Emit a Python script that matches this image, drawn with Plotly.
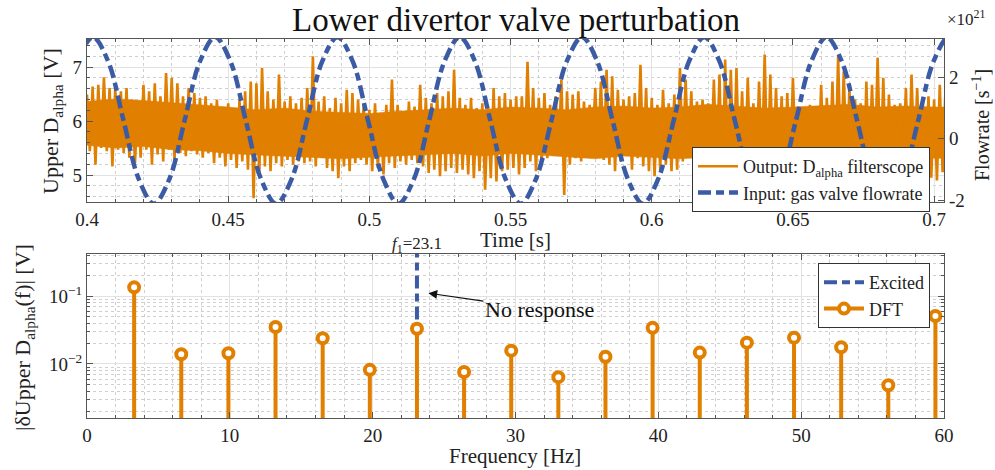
import numpy as np
import plotly.graph_objects as go

# ---------------- data ----------------
title_text = "Lower divertor valve perturbation"

# Top panel: D_alpha filterscope, upper / lower excursion read per 2 ms slice
t_start = 0.400
t_step = 0.002
dalpha_upper = [
    6.49, 6.64, 6.67, 6.81, 6.61, 6.61, 6.55, 6.61, 6.40, 6.36, 6.67, 6.55, 6.70, 6.46, 6.89, 6.80, 6.70, 6.46, 6.61, 6.52,
    6.43, 6.46, 6.33, 6.40, 6.24, 6.33, 6.21, 6.40, 6.55, 6.73, 6.70, 6.98, 6.55, 6.40, 6.86, 6.36, 6.46, 6.33, 6.43,
    6.61, 7.20, 6.36, 6.46, 6.24, 6.43, 6.33, 6.58, 6.52, 6.40, 6.30, 6.21, 6.33, 6.12, 6.30, 6.77, 6.30, 6.18, 6.36, 6.27,
    6.67, 6.43, 6.33, 6.52, 6.46, 6.55, 6.95, 6.43, 6.30, 6.43, 6.24, 6.33, 6.27, 6.61, 6.46, 6.52, 6.40, 6.46,
    6.46, 7.10, 6.61, 6.43, 6.52, 6.30, 6.46, 6.77, 6.55, 6.49, 6.55, 6.36, 6.30, 6.61, 6.73, 6.95, 6.83, 6.58, 6.40, 6.46,
    6.52, 7.04, 6.61, 6.43, 6.30, 6.58, 6.33, 6.49, 6.98, 6.77, 6.55, 6.36, 6.40, 6.33, 6.77, 6.86, 7.14, 6.95,
    6.98, 6.55, 6.80, 6.33, 6.73, 7.23, 6.86, 6.61, 6.46, 6.52, 6.80, 6.27, 6.21, 6.30, 6.24, 6.67, 6.43, 6.73, 7.20, 6.92,
    6.61, 6.40, 6.33, 6.73, 6.67, 7.17, 6.80, 6.49, 6.30, 6.33, 6.61, 6.86, 6.61, 6.33, 6.46, 6.40, 6.67, 6.55,
]
dalpha_lower = [
    5.44, 5.19, 5.50, 5.44, 5.16, 5.47, 5.41, 5.32, 5.22, 5.32, 5.47, 5.19, 5.38, 5.25, 5.47, 5.28, 5.41, 5.35, 5.44, 5.38,
    5.32, 5.41, 5.22, 5.32, 5.16, 5.28, 5.13, 5.25, 5.10, 4.57, 4.98, 5.16, 5.07, 5.22, 5.16, 5.28, 5.19, 5.25, 5.22,
    5.25, 5.16, 5.32, 5.13, 5.07, 4.94, 5.16, 5.07, 5.22, 5.28, 5.19, 5.07, 5.13, 5.01, 5.22, 5.13, 5.25, 5.19, 5.28, 5.22,
    5.16, 5.04, 5.10, 4.98, 5.07, 5.13, 5.04, 5.10, 5.01, 4.94, 5.07, 4.73, 4.94, 4.88, 5.07, 5.10, 5.13, 5.01,
    5.13, 5.25, 5.07, 5.19, 5.31, 5.38, 5.41, 4.63, 5.19, 5.31, 5.25, 5.41, 5.47, 5.38, 5.28, 5.19, 5.07, 5.25, 5.41, 5.10,
    5.31, 5.16, 5.07, 4.98, 5.10, 5.19, 5.07, 5.10, 5.25, 5.35, 5.22, 5.38, 5.16, 5.07, 5.10, 4.51, 4.94, 5.07,
    5.05, 4.95, 5.10, 5.00, 5.15, 4.90, 5.05, 5.12, 4.98, 5.08, 5.20, 5.02, 4.95, 5.10, 5.05, 4.90, 5.12, 5.00, 5.15, 5.05,
    4.92, 5.08, 4.55, 5.02, 5.10, 4.98, 5.05, 5.12, 4.96, 5.08, 5.00, 5.15, 5.05, 5.10, 4.95, 4.90, 5.05, 5.00,
]

# Solid core of the D_alpha band, read every 10 ms
core_t = [0.40, 0.41, 0.42, 0.43, 0.44, 0.45, 0.46, 0.47, 0.48, 0.49, 0.50, 0.51, 0.52, 0.53, 0.54, 0.55,
          0.56, 0.57, 0.58, 0.59, 0.60, 0.61, 0.62, 0.63, 0.64, 0.65, 0.66, 0.67, 0.68, 0.69, 0.70, 0.71]
core_hi = [6.36, 6.41, 6.38, 6.34, 6.31, 6.26, 6.21, 6.24, 6.18, 6.16, 6.14, 6.18, 6.21, 6.24, 6.21, 6.26,
           6.24, 6.21, 6.26, 6.28, 6.24, 6.26, 6.31, 6.28, 6.24, 6.26, 6.28, 6.31, 6.26, 6.28, 6.26, 6.26]
core_lo = [5.55, 5.50, 5.53, 5.47, 5.45, 5.40, 5.37, 5.35, 5.33, 5.30, 5.33, 5.35, 5.37, 5.40, 5.35, 5.40,
           5.37, 5.33, 5.30, 5.35, 5.33, 5.30, 5.33, 5.35, 5.30, 5.33, 5.35, 5.31, 5.30, 5.33, 5.31, 5.31]

# Gas valve flowrate (x1e21 s^-1), read at eighth-period points
valve_t = [
    0.3913, 0.3967, 0.4021, 0.4075, 0.4129, 0.4183, 0.4237, 0.4292, 0.4346, 0.4400,
    0.4454, 0.4508, 0.4562, 0.4616, 0.4670, 0.4725, 0.4779, 0.4833, 0.4887, 0.4941,
    0.4995, 0.5049, 0.5103, 0.5158, 0.5212, 0.5266, 0.5320, 0.5374, 0.5428, 0.5482,
    0.5536, 0.5590, 0.5645, 0.5699, 0.5753, 0.5807, 0.5861, 0.5915, 0.5969, 0.6023,
    0.6078, 0.6132, 0.6186, 0.6240, 0.6294, 0.6348, 0.6402, 0.6456, 0.6511, 0.6565,
    0.6619, 0.6673, 0.6727, 0.6781, 0.6835, 0.6889, 0.6944, 0.6998, 0.7052, 0.7106,
]
valve_flow = [
    0.6, 2.51, 3.3, 2.51, 0.6, -1.31, -2.12, -1.31, 0.6, 2.51,
    3.3, 2.51, 0.6, -1.31, -2.12, -1.31, 0.6, 2.51, 3.3, 2.51,
    0.6, -1.31, -2.12, -1.31, 0.6, 2.51, 3.3, 2.51, 0.6, -1.31,
    -2.12, -1.31, 0.6, 2.51, 3.3, 2.51, 0.6, -1.31, -2.12, -1.31,
    0.6, 2.51, 3.3, 2.51, 0.6, -1.31, -2.12, -1.31, 0.6, 2.51,
    3.3, 2.51, 0.6, -1.31, -2.12, -1.31, 0.6, 2.51, 3.3, 2.51,
]

# Bottom panel: DFT amplitudes
freq_hz = [3.3, 6.6, 9.9, 13.2, 16.5, 19.8, 23.1, 26.4, 29.7, 33.0,
           36.3, 39.6, 42.9, 46.2, 49.5, 52.8, 56.1, 59.4]
dft_amp = [0.134, 0.0139, 0.0144, 0.035, 0.0239, 0.0082, 0.033, 0.0076, 0.0157, 0.0064,
           0.0128, 0.034, 0.0147, 0.0206, 0.0244, 0.0176, 0.00486, 0.0508]
f1 = 23.1
excited_amp = [0.045, 1.0]
stem_base = 1e-4

# ---------------- styles ----------------
ORANGE = "#E07F00"
BLUE = "#3B5BA5"
FONT = "Liberation Serif"
AX = "#555555"
GRID = "#E2E2E2"
MGRID = "#CFCFCF"
DASH = "13px,5px,8px,5px"

# build interleaved noisy trace
n = len(dalpha_upper)
t_env = t_start + t_step * np.arange(n)
t_sig = np.empty(2 * n)
y_sig = np.empty(2 * n)
t_sig[0::2] = t_env
t_sig[1::2] = t_env + t_step / 2
y_sig[0::2] = dalpha_upper
y_sig[1::2] = dalpha_lower

fig = go.Figure()

# solid core (filled band)
fig.add_trace(go.Scatter(
    x=core_t, y=core_lo, mode="lines", xaxis="x", yaxis="y",
    line=dict(color=ORANGE, width=0.5), showlegend=False, hoverinfo="skip",
))
fig.add_trace(go.Scatter(
    x=core_t, y=core_hi, mode="lines", xaxis="x", yaxis="y",
    line=dict(color=ORANGE, width=0.5), fill="tonexty", fillcolor=ORANGE,
    showlegend=False, hoverinfo="skip",
))
fig.add_trace(go.Scatter(
    x=t_sig, y=y_sig, mode="lines", xaxis="x", yaxis="y",
    line=dict(color=ORANGE, width=2.6),
    name="Output: D<sub>alpha</sub> filterscope", legend="legend",
))
fig.add_trace(go.Scatter(
    x=valve_t, y=valve_flow, mode="lines", xaxis="x", yaxis="y2",
    line=dict(color=BLUE, width=4.5, dash=DASH, shape="spline", smoothing=1.0),
    name="Input: gas valve flowrate", legend="legend",
))

# stems
sx, sy = [], []
for f, a in zip(freq_hz, dft_amp):
    sx += [f, f, None]
    sy += [stem_base, a, None]

fig.add_trace(go.Scatter(
    x=[f1, f1], y=excited_amp, mode="lines", xaxis="x2", yaxis="y3",
    line=dict(color=BLUE, width=4, dash=DASH),
    name="Excited", legend="legend2",
))
fig.add_trace(go.Scatter(
    x=sx, y=sy, mode="lines", xaxis="x2", yaxis="y3",
    line=dict(color=ORANGE, width=4), showlegend=False, hoverinfo="skip",
))
fig.add_trace(go.Scatter(
    x=freq_hz, y=dft_amp, mode="markers", xaxis="x2", yaxis="y3",
    marker=dict(symbol="circle", size=10, color="white", line=dict(color=ORANGE, width=4)),
    showlegend=False,
))
fig.add_trace(go.Scatter(
    x=[None], y=[None], mode="lines+markers", xaxis="x2", yaxis="y3",
    line=dict(color=ORANGE, width=4),
    marker=dict(symbol="circle", size=10, color="white", line=dict(color=ORANGE, width=4)),
    name="DFT", legend="legend2",
))

xd = [87 / 995, 944 / 995]
tick_font = dict(family=FONT, size=19, color="#222")

common_axis = dict(
    showline=True, linecolor=AX, linewidth=1.2, ticks="inside", tickcolor=AX,
    ticklen=6, tickfont=tick_font, zeroline=False, automargin=False,
)

fig.update_layout(
    width=995, height=470,
    margin=dict(l=0, r=0, t=0, b=0, pad=0, autoexpand=False),
    paper_bgcolor="white", plot_bgcolor="white",
    font=dict(family=FONT, color="#222"),
    xaxis=dict(**common_axis, domain=xd, anchor="y", range=[0.4, 0.7035],
               tickvals=[0.4, 0.45, 0.5, 0.55, 0.6, 0.65, 0.7],
               ticktext=["0.4", "0.45", "0.5", "0.55", "0.6", "0.65", "0.7"],
               mirror="ticks", showgrid=True, gridcolor=GRID,
               minor=dict(dtick=0.01, tick0=0.4, ticks="inside", ticklen=3, tickcolor=AX,
                          showgrid=True, gridcolor=MGRID, griddash="dot")),
    yaxis=dict(**common_axis, domain=[1 - 202 / 470, 1 - 39 / 470], anchor="x",
               range=[4.5, 7.52], tickvals=[5, 6, 7], showgrid=True, gridcolor=GRID,
               minor=dict(dtick=0.2, tick0=4.6, ticks="inside", ticklen=3, tickcolor=AX,
                          showgrid=True, gridcolor=MGRID, griddash="dot")),
    yaxis2=dict(**common_axis, overlaying="y", side="right", anchor="x",
                range=[-2.065, 3.24], tickvals=[-2, 0, 2], ticktext=["-2", "0", "2"],
                showgrid=False),
    xaxis2=dict(**common_axis, domain=xd, anchor="y3", range=[0, 60],
                tickvals=[0, 10, 20, 30, 40, 50, 60], mirror="ticks",
                showgrid=True, gridcolor=GRID,
                minor=dict(dtick=2, tick0=0, ticks="inside", ticklen=3, tickcolor=AX,
                           showgrid=True, gridcolor=MGRID, griddash="dot")),
    yaxis3=dict(**common_axis, domain=[1 - 418 / 470, 1 - 254 / 470], anchor="x2",
                type="log", range=[-2.795, -0.382],
                tickvals=[0.01, 0.1], ticktext=["10<sup>−2</sup>", "10<sup>−1</sup>"],
                mirror="ticks", showgrid=True, gridcolor=GRID,
                minor=dict(dtick="D1", ticks="inside", ticklen=3, tickcolor=AX,
                           showgrid=True, gridcolor=MGRID, griddash="dot")),
    legend=dict(x=930 / 995, xanchor="right", y=1 - 147 / 470, yanchor="top",
                bgcolor="white", bordercolor="#333", borderwidth=1,
                font=dict(family=FONT, size=18, color="#222"),
                itemwidth=40, tracegroupgap=0, traceorder="normal"),
    legend2=dict(x=930 / 995, xanchor="right", y=1 - 263 / 470, yanchor="top",
                 bgcolor="white", bordercolor="#333", borderwidth=1,
                 font=dict(family=FONT, size=18, color="#222"),
                 itemwidth=40, tracegroupgap=0, traceorder="normal"),
    showlegend=True,
)

ann = []
ann.append(dict(text=title_text, x=516 / 995, y=1 - 20 / 470, xref="paper", yref="paper",
                showarrow=False, font=dict(family=FONT, size=33, color="#111"),
                xanchor="center", yanchor="middle"))
ann.append(dict(text="×10<sup>21</sup>", x=966 / 995, y=1 - 18 / 470, xref="paper", yref="paper",
                showarrow=False, font=dict(family=FONT, size=17, color="#222"),
                xanchor="center", yanchor="middle"))
ann.append(dict(text="Upper D<sub>alpha</sub> [V]", x=52 / 995, y=1 - 121 / 470, xref="paper",
                yref="paper", showarrow=False, textangle=-90,
                font=dict(family=FONT, size=22, color="#222"), xanchor="center", yanchor="middle"))
ann.append(dict(text="Flowrate [s<sup>−1</sup>]", x=981 / 995, y=1 - 125 / 470, xref="paper",
                yref="paper", showarrow=False, textangle=-90,
                font=dict(family=FONT, size=20, color="#222"), xanchor="center", yanchor="middle"))
ann.append(dict(text="Time [s]", x=515 / 995, y=1 - 240 / 470, xref="paper", yref="paper",
                showarrow=False, font=dict(family=FONT, size=21, color="#222"),
                xanchor="center", yanchor="middle"))
ann.append(dict(text="|δUpper D<sub>alpha</sub>(f)| [V]", x=24 / 995, y=1 - 338 / 470,
                xref="paper", yref="paper", showarrow=False, textangle=-90,
                font=dict(family=FONT, size=22, color="#222"), xanchor="center", yanchor="middle"))
ann.append(dict(text="Frequency [Hz]", x=515 / 995, y=1 - 456 / 470, xref="paper", yref="paper",
                showarrow=False, font=dict(family=FONT, size=21, color="#222"),
                xanchor="center", yanchor="middle"))
ann.append(dict(text="<i>f</i><sub>1</sub>=23.1", x=f1, y=1 - 245 / 470, xref="x2", yref="paper",
                showarrow=False, font=dict(family=FONT, size=17, color="#222"),
                xanchor="center", yanchor="middle"))
ann.append(dict(text="No response", x=23.9, y=np.log10(0.11), xref="x2", yref="y3",
                ax=111, ay=16, axref="pixel", ayref="pixel", showarrow=True,
                arrowhead=2, arrowsize=1.6, arrowwidth=1.1, arrowcolor="#111",
                font=dict(family=FONT, size=22, color="#111"), standoff=0))
fig.update_layout(annotations=ann)

fig.write_html("out.html")
